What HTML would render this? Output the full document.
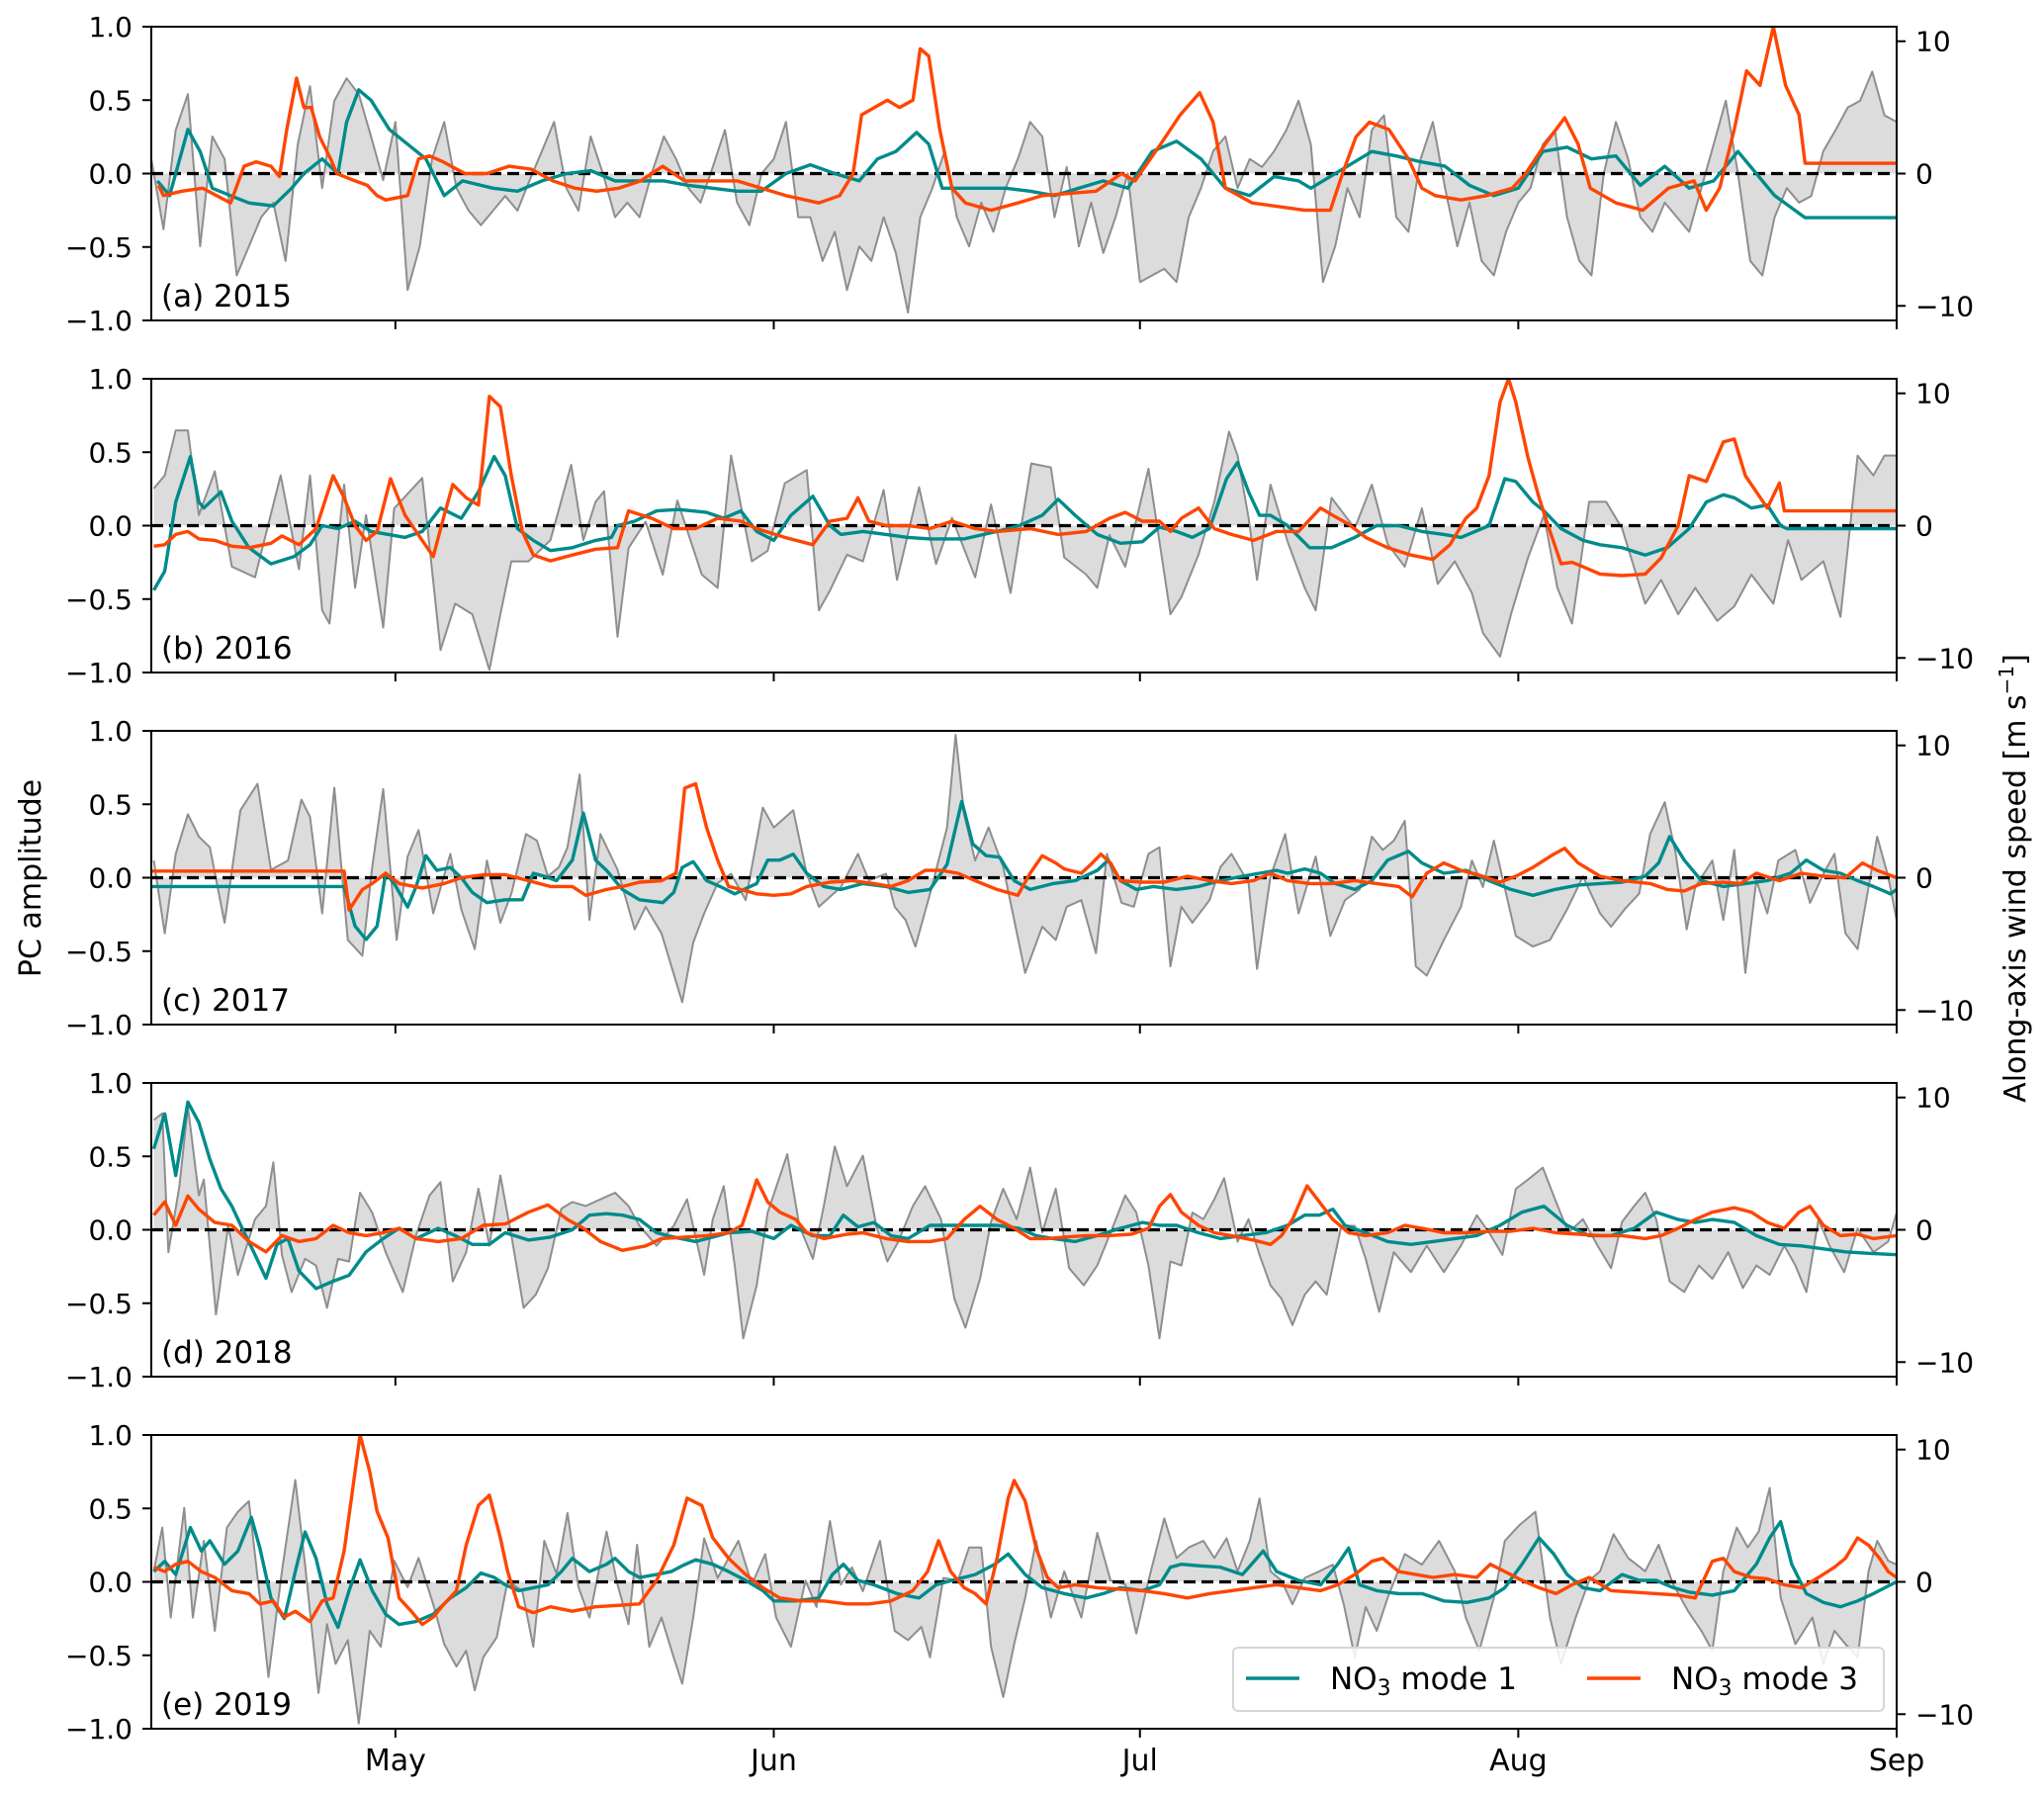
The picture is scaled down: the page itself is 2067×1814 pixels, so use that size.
<!DOCTYPE html>
<html><head><meta charset="utf-8"><title>PC amplitude and along-axis wind</title>
<style>
html,body{margin:0;padding:0;background:#fff;}
svg{display:block;font-family:"DejaVu Sans","Liberation Sans",sans-serif;}
</style></head>
<body>
<svg id="chart" width="2067" height="1814" viewBox="0 0 2067 1814" xmlns="http://www.w3.org/2000/svg"></svg>
<script>
// ---------------- DATA ----------------
const monthLabels = ["May","Jun","Jul","Aug","Sep"];
const monthDays = [20,51,81,112,143]; // days since Apr 11
const leftTicks = [-1.0,-0.5,0.0,0.5,1.0];
const rightTicks = [-10,0,10];
const panelLabels = ["(a) 2015","(b) 2016","(c) 2017","(d) 2018","(e) 2019"];

// wind (m/s), daily from Apr 11
const windA = [1.1,-4.2,3.3,6,-5.5,2.8,1.1,-7.7,-5.5,-3.3,-2.2,-6.6,2.2,6.6,-1.1,5.5,7.2,6,2.8,-0.5,3.9,-8.8,-5.5,1.1,3.9,-1.1,-2.8,-3.9,-2.8,-1.7,-2.8,-0.5,1.7,3.9,-1.1,-2.8,2.8,0,-3.3,-2.2,-3.3,0,2.8,1.1,-1.1,-2.2,0.5,3.3,-2.2,-3.9,0,1.1,3.9,-3.3,-3.3,-6.6,-4.4,-8.8,-5.5,-6.6,-3.3,-6,-10.5,-3.3,-1.1,1.7,-3.3,-5.5,-2.2,-4.4,-1.1,1.1,3.9,2.8,-3.3,0.5,-5.5,-2.2,-6,-3.3,0,-8.2,-7.7,-7.2,-8.2,-3.3,-1.1,1.7,2.8,-1.1,1.1,0.5,1.7,3.3,5.5,2.2,-8.2,-5.5,-1.1,-3.3,3.3,4.4,-3.3,-4.4,1.1,3.9,-1.1,-5.5,-2.2,-6.6,-7.7,-4.4,-2.2,-1.1,2.2,3.3,-3.3,-6.6,-7.7,0,3.9,1.1,-3.3,-4.4,-2.2,-3.3,-4.4,-1.1,2.2,5.5,0,-6.6,-7.7,-3.3,-1.1,-2.2,-1.7,1.7,3.3,5,5.5,7.7,4.4,3.9];
const windB = [[0.2,2.8],[1.1,3.8],[2,7.2],[3,7.2],[3.9,0.8],[5.2,4.1],[6.6,-3.1],[8.5,-3.9],[10.6,3.8],[12.1,-3.3],[13,3.8],[14,-6.4],[14.6,-7.4],[15.8,3.1],[16.7,-4.7],[17.6,0.8],[19,-7.7],[19.9,1.3],[22.2,3.6],[23.7,-9.4],[24.9,-5.9],[26.3,-6.7],[27.7,-10.9],[28.6,-6.7],[29.5,-2.7],[30.9,-2.7],[32.7,-1.1],[34.4,4.6],[35.4,-1.1],[36.4,1.8],[37.1,2.6],[38.2,-8.4],[39.1,-1.7],[40.5,0.3],[41.9,-3.7],[43.1,1.9],[45.1,-3.7],[46.4,-4.7],[47.5,5.3],[49.2,-2.7],[50.5,-1.9],[51.9,3.2],[53.7,4.2],[54.7,-6.4],[55.6,-4.9],[57,-2.2],[58.3,-2.7],[60,2.7],[61.1,-4.1],[62.9,2.9],[64.3,-2.9],[65.6,0.6],[67.5,-3.9],[68.8,1.6],[70.4,-5.1],[72.1,4.7],[73.7,4.4],[74.8,-2.4],[76.6,-3.7],[77.5,-4.7],[78.5,-0.7],[79.8,-3.1],[81.7,4.3],[83.5,-6.7],[84.4,-5.4],[85.8,-2.2],[87.1,1.8],[88.3,7.1],[89,5.3],[89.9,0.6],[90.6,-4.1],[91.7,3.1],[93.1,-1.2],[94.5,-4.7],[95.4,-6.4],[96.7,2.1],[98.6,-0.2],[100,3.1],[101.3,-1.4],[102.7,-3.1],[104.1,1.3],[105.4,-4.4],[106.8,-2.7],[108.2,-5.1],[109.1,-8.1],[110.5,-9.9],[111.4,-6.7],[112.8,-2.4],[114.1,0.8],[115.2,-4.7],[116.4,-7.4],[117.8,1.8],[119.2,1.8],[120.5,-0.2],[122.4,-5.9],[123.7,-4.1],[125.1,-6.7],[126.5,-4.7],[128.3,-7.2],[129.7,-6.1],[131.1,-3.7],[132.9,-5.9],[134.1,-1.1],[135.2,-4.1],[137,-2.7],[138.4,-6.9],[139.8,5.3],[141.1,3.8],[142,5.3],[143,5.3]];
const windC = [[0.2,1.3],[1.1,-4.2],[2,1.8],[3,4.8],[3.9,3.1],[4.8,2.3],[6,-3.4],[7.3,5.1],[8.7,7.1],[9.8,0.6],[11.2,1.3],[12.3,5.9],[13,4.6],[14,-2.7],[15,6.8],[16.1,-4.7],[17.3,-5.9],[18.1,0.8],[19,6.7],[20.1,-4.7],[21,1.6],[21.9,3.6],[23.1,-2.7],[24.5,1.8],[25.4,-2.4],[26.5,-5.4],[27.5,1.3],[28.6,-3.4],[29.5,-1.2],[30.7,3.3],[31.6,2.8],[32.5,0.1],[33.4,0.8],[34.1,2.3],[35.1,7.8],[35.9,-3.2],[36.8,3.3],[38.2,0.6],[39.6,-3.9],[40.5,-2.2],[41.8,-4.2],[43.5,-9.4],[44.4,-4.9],[45.3,-2.7],[46.4,-0.4],[47.5,0.3],[48.7,-1.7],[50.1,5.3],[51,3.8],[52.6,5.1],[53.7,0.3],[54.7,-2.2],[56.5,-0.7],[57.9,1.8],[58.8,-0.2],[60.2,0.3],[60.9,-2.2],[61.8,-3.2],[62.6,-5.2],[63.8,-1.2],[65.2,3.8],[65.9,10.8],[66.6,4.8],[67.5,1.3],[68.6,3.8],[69.8,0.8],[71.6,-7.2],[73,-3.7],[74.1,-4.7],[75,-2.2],[76.2,-1.7],[77.4,-5.7],[78.3,1.8],[79.5,-1.9],[80.5,-2.2],[81.7,1.8],[82.6,2.3],[83.5,-6.7],[84.4,-2.2],[85.3,-3.4],[86.7,-1.7],[87.6,0.8],[88.5,1.8],[89.9,-0.4],[90.6,-6.9],[91.7,0.1],[92.9,3.3],[94,-2.7],[95.4,1.6],[96.6,-4.4],[97.8,-1.7],[99,-0.9],[100,3.1],[100.9,2.1],[101.8,2.8],[102.7,4.3],[103.6,-6.7],[104.5,-7.4],[105.9,-4.7],[107.3,-2.2],[108.2,1.3],[109.1,-0.7],[110,2.8],[111.8,-4.4],[113.2,-5.2],[114.6,-4.7],[116,-2.4],[117.3,0.1],[118.7,-2.7],[119.6,-3.7],[120.7,-2.4],[121.9,-1.2],[122.8,3.3],[124,5.7],[124.9,1.8],[125.8,-3.9],[126.5,-0.7],[127.9,1.3],[128.8,-3.2],[129.7,2.1],[130.6,-7.2],[131.5,-0.2],[132.4,-2.7],[133.3,1.3],[134.7,2.1],[135.9,-1.9],[137,0.3],[137.9,1.8],[138.8,-4.2],[139.8,-5.4],[140.7,-0.7],[141.4,3.1],[142.3,0.1],[143,-3.2]];
const windD = [[0.2,8.3],[0.9,8.8],[1.4,-1.7],[2.3,3.3],[3,9.3],[3.9,2.6],[4.3,3.8],[5.3,-6.4],[6.3,0.3],[7.1,-3.4],[8.5,0.8],[9.4,1.8],[10,5.1],[10.7,-1.9],[11.5,-4.7],[12.6,-2.2],[13.5,-2.7],[14.4,-5.9],[15.3,-2.2],[16.2,-2.4],[17.1,2.8],[18.1,1.3],[19.2,-1.7],[20.6,-4.7],[21.7,-0.4],[22.8,2.6],[23.7,3.6],[24.7,-3.9],[25.8,-1.7],[26.8,3.1],[27.7,-1.2],[28.6,4.1],[29.5,-0.4],[30.5,-5.9],[31.5,-4.9],[32.5,-2.9],[33.6,1.6],[34.5,2.1],[35.6,1.8],[36.8,2.3],[38,2.8],[39.1,1.8],[40,0.3],[41.4,-1.2],[42.8,0.3],[43.9,2.3],[45.3,-3.4],[46,0.8],[46.9,3.3],[47.8,-2.7],[48.5,-8.2],[49.6,-4.2],[50.5,1.3],[52.1,5.7],[53.1,0.3],[54.2,-2.2],[55.1,1.8],[56,6.3],[57,3.3],[58.3,5.6],[59.4,0.3],[60.3,-2.4],[61.2,-0.9],[62.4,1.8],[63.4,3.3],[64.7,0.8],[65.8,-5.2],[66.7,-7.4],[67.9,-3.7],[68.8,0.6],[69.8,3.1],[70.9,0.8],[72,4.7],[73,-0.2],[74.1,3.1],[75.2,-2.9],[76.4,-4.2],[77.5,-2.7],[78.6,-0.2],[79.8,2.6],[80.7,1.3],[81.7,-2.7],[82.6,-8.2],[83.5,-2.4],[84.4,-2.7],[85.3,1.3],[86.2,0.8],[87.1,2.3],[87.9,3.9],[89,-0.9],[89.9,0.8],[90.8,-1.9],[91.7,-4.2],[92.6,-5.2],[93.5,-7.2],[94.5,-4.9],[95.4,-3.9],[96.3,-4.9],[97.5,0.3],[98.6,0.3],[99.5,-2.2],[100.6,-6.2],[101.8,-1.7],[103.2,-3.2],[104.5,-1.2],[105.9,-3.2],[107.3,-1.2],[108.6,1.1],[109.6,-0.2],[110.7,-1.9],[111.8,3.1],[112.8,3.8],[114,4.7],[115.1,2.1],[116.1,-0.2],[117.3,0.8],[118.5,-1.2],[119.6,-2.9],[120.5,0.6],[121.5,1.8],[122.4,2.8],[123.3,0.8],[124.4,-3.9],[125.6,-4.7],[126.8,-2.7],[127.9,-3.7],[129.2,-1.7],[130.4,-4.4],[131.5,-2.7],[132.6,-3.4],[133.8,-1.2],[134.7,-2.7],[135.6,-4.7],[136.6,0.8],[137.5,-1.2],[138.7,-3.2],[139.8,0.1],[141.1,-1.7],[142.3,-0.9],[143,1.3]];
const windE = [[0.2,0.8],[0.9,4.1],[1.6,-2.7],[2.7,5.6],[3.4,-2.7],[4.3,3.1],[5.2,-3.7],[6.2,4.1],[7.1,5.3],[8,6.1],[8.9,-1.2],[9.6,-7.2],[10.7,0.8],[11.8,7.7],[12.6,1.3],[13.7,-8.4],[14.4,-3.2],[15.1,-6.2],[16.1,-4.4],[17,-10.7],[17.9,-3.7],[18.8,-4.9],[19.9,1.6],[21,-0.4],[21.9,1.8],[23.1,-1.7],[24,-4.7],[25,-6.4],[25.8,-5.2],[26.5,-8.2],[27.2,-5.7],[28.3,-4.2],[29.2,0.1],[30.4,-0.7],[31.3,-4.9],[32.2,3.1],[33.2,0.6],[34.1,5.2],[35,-0.4],[35.9,-2.7],[37.3,3.8],[38.2,-0.2],[39.1,-3.2],[39.8,2.8],[40.8,-4.9],[41.8,-2.7],[42.8,-5.7],[43.5,-7.7],[44.4,-2.7],[45.3,3.3],[46.4,0.3],[48.1,3.1],[49.2,-0.2],[50.3,2.1],[51.2,-2.7],[52.4,-4.9],[53.6,0.1],[54.5,-1.9],[55.6,4.6],[56.5,-0.2],[57.4,1.1],[58.3,-0.7],[59.7,3.1],[60.9,-3.7],[62,-4.4],[63.1,-3.4],[63.8,-5.7],[64.9,0.3],[66.1,0.1],[67,2.6],[68,2.6],[68.8,-4.9],[69.8,-8.7],[70.7,-4.7],[71.6,-1.2],[72.5,3.1],[73.7,-2.7],[74.8,0.8],[76.2,-2.7],[77.5,3.7],[78.6,0.1],[79.8,-0.2],[80.7,-3.9],[81.7,0.1],[83,4.8],[84,1.8],[85,2.6],[86.2,3.1],[87.1,1.8],[88.1,3.3],[89,0.8],[90,3.1],[90.8,6.3],[91.7,0.8],[92.6,0.1],[93.5,-1.7],[94.5,0.3],[95.7,0.8],[96.8,1.3],[97.7,-1.7],[98.6,-5.7],[99.5,-1.9],[100.4,-3.7],[101.3,-1.2],[102.7,2.1],[104.1,1.3],[105.5,3.1],[106.8,0.8],[107.7,-2.7],[108.8,-5.2],[110,-1.2],[110.9,3.1],[112.1,4.3],[113.4,5.3],[114.6,-2.7],[115.5,-6.2],[116.7,-2.7],[117.8,0.1],[118.7,0.8],[119.8,3.6],[121,1.8],[122.4,0.8],[123.5,2.8],[124.7,-0.2],[125.9,-2.2],[127,-3.7],[127.9,-5.2],[128.8,0.8],[129.9,4.1],[130.8,2.6],[131.7,3.8],[132.6,7.1],[133.5,-1.2],[134.7,-4.7],[136.1,-2.7],[137,-6.2],[137.9,-3.7],[138.8,-4.7],[139.8,-5.7],[140.7,0.8],[141.4,3.1],[142.3,1.6],[143,1.3]];

// NO3 mode 1 PC amplitude
const mode1A = [[0.5,-0.05],[1.5,-0.15],[3,0.3],[4,0.15],[5,-0.1],[6.5,-0.15],[8,-0.2],[10,-0.22],[11.5,-0.1],[12.5,0],[14,0.1],[15.3,0],[16,0.35],[17,0.57],[18,0.5],[19.5,0.3],[21,0.2],[22.5,0.1],[24,-0.15],[25.5,-0.05],[28,-0.1],[30,-0.12],[32,-0.05],[34,0],[36,0.02],[38,-0.05],[40,-0.05],[42,-0.05],[44,-0.08],[46,-0.1],[48,-0.12],[50,-0.12],[52,0],[54,0.06],[56,0],[58,-0.05],[59.5,0.1],[61,0.15],[62.7,0.28],[63.7,0.2],[64.8,-0.1],[68,-0.1],[70,-0.1],[72,-0.12],[74,-0.15],[76,-0.1],[78,-0.05],[80,-0.1],[82,0.15],[84,0.22],[86,0.1],[88,-0.1],[90,-0.15],[92,-0.02],[94,-0.05],[95,-0.1],[98,0.05],[100,0.15],[102,0.12],[104,0.08],[106,0.05],[108,-0.08],[110,-0.15],[112,-0.1],[114,0.15],[116,0.18],[118,0.1],[120,0.12],[122,-0.08],[124,0.05],[126,-0.1],[128,-0.05],[130,0.15],[131.5,0],[133,-0.15],[135.5,-0.3],[143,-0.3]];
const mode1B = [[0.2,-0.44],[1.1,-0.31],[2,0.16],[3.2,0.47],[3.9,0.16],[4.3,0.12],[5.7,0.23],[6.6,0.03],[8,-0.15],[9.8,-0.26],[11.7,-0.21],[13,-0.13],[14,0],[15.3,-0.02],[16.7,0.03],[18,-0.04],[20.8,-0.08],[22.2,-0.04],[23.7,0.12],[25.4,0.05],[26.8,0.23],[28.1,0.47],[29,0.34],[30,-0.02],[31.3,-0.1],[32.7,-0.17],[34.5,-0.15],[36.4,-0.1],[37.7,-0.08],[38.2,0],[39.6,0.03],[41.4,0.1],[43.2,0.11],[45.5,0.09],[46.9,0.05],[48.3,0.1],[49.6,-0.04],[51,-0.1],[52.4,0.07],[54.2,0.2],[55.6,0],[56.5,-0.06],[58.3,-0.04],[60.2,-0.06],[62,-0.08],[63.8,-0.09],[66.6,-0.09],[69.3,-0.04],[71.1,0],[73,0.07],[74.3,0.18],[75.7,0.07],[77.5,-0.06],[79.4,-0.12],[81.2,-0.11],[82.6,-0.01],[84,-0.04],[85.3,-0.08],[86.7,-0.02],[88.1,0.32],[89,0.43],[89.9,0.23],[90.8,0.07],[91.7,0.07],[93.1,0],[94.9,-0.15],[96.7,-0.15],[98.6,-0.08],[100.4,0],[102.2,0],[104.1,-0.04],[105.9,-0.06],[107.3,-0.08],[109.6,0.0],[110.9,0.32],[111.8,0.3],[113.2,0.16],[114.1,0.1],[115.5,-0.02],[117.3,-0.1],[118.7,-0.13],[120.5,-0.15],[122.4,-0.2],[124.2,-0.15],[126,-0.02],[127.4,0.16],[128.8,0.21],[129.7,0.19],[131.1,0.12],[132.4,0.14],[133.5,0],[134,-0.02],[143,-0.02]];
const mode1C = [[0,-0.06],[15.8,-0.06],[16.7,-0.33],[17.6,-0.42],[18.5,-0.33],[19.2,0.03],[19.9,-0.04],[21,-0.2],[21.7,-0.06],[22.5,0.15],[23.4,0.05],[24.5,0.07],[25.4,0],[26.3,-0.1],[27.5,-0.17],[29,-0.15],[30.4,-0.15],[31.3,0.03],[32.2,0.01],[33.2,-0.02],[34.5,0.12],[35.4,0.44],[36.4,0.12],[37.3,0.05],[38.6,-0.08],[40,-0.15],[41.9,-0.17],[42.8,-0.1],[43.5,0.07],[44.4,0.11],[45.5,-0.02],[46.6,-0.06],[47.8,-0.11],[49.6,-0.04],[50.5,0.12],[51.5,0.12],[52.6,0.16],[53.7,0.03],[55.1,-0.06],[56.5,-0.08],[58.3,-0.04],[60.2,-0.06],[62,-0.1],[63.8,-0.08],[65.2,0.09],[66.4,0.52],[67.3,0.23],[68.4,0.15],[69.5,0.14],[70.7,-0.02],[72,-0.08],[73.9,-0.04],[75.7,-0.02],[77.5,0.05],[78.4,0.12],[79.4,-0.02],[80.7,-0.08],[82.1,-0.06],[84,-0.08],[85.8,-0.06],[87.6,-0.02],[89.4,0.01],[90.8,0.03],[92.2,0.05],[93.1,0.03],[94.5,0.06],[95.8,0.03],[97,-0.04],[98.6,-0.08],[100,-0.02],[101.3,0.12],[103,0.18],[104.1,0.1],[105.9,0.03],[107.7,0.05],[109.6,-0.02],[111.4,-0.08],[113.2,-0.12],[115,-0.08],[116.9,-0.05],[118.7,-0.04],[120.5,-0.03],[122.4,0.01],[123.5,0.1],[124.4,0.28],[125.6,0.12],[127,-0.02],[128.8,-0.06],[130.6,-0.04],[132.4,-0.02],[134.3,0.03],[135.6,0.12],[137,0.05],[138.4,0.03],[139.8,-0.02],[141.1,-0.06],[142.5,-0.11],[143,-0.08]];
const mode1D = [[0.2,0.55],[1.1,0.79],[2,0.37],[3,0.87],[3.9,0.73],[4.8,0.48],[5.7,0.28],[6.6,0.16],[7.5,0],[8.5,-0.17],[9.4,-0.33],[10.3,-0.1],[11.2,-0.06],[12.1,-0.28],[13.5,-0.4],[14.9,-0.35],[16.2,-0.31],[17.6,-0.15],[19,-0.06],[20.3,0.01],[21.7,-0.06],[23.5,0.01],[24.9,-0.04],[26.3,-0.1],[27.7,-0.1],[29,-0.02],[30.9,-0.07],[32.7,-0.05],[34.5,0],[35.9,0.1],[37.3,0.11],[38.6,0.1],[40,0.07],[41.4,-0.02],[42.8,-0.05],[44.6,-0.08],[46,-0.05],[47.3,-0.02],[49.2,-0.01],[51,-0.06],[52.4,0.03],[54.2,-0.04],[55.6,-0.04],[56.7,0.1],[57.9,0.02],[59.2,0.05],[60.6,-0.04],[62,-0.06],[63.8,0.03],[65.6,0.03],[67.5,0.03],[69.3,0.03],[71.1,0.01],[72.5,-0.04],[73.9,-0.06],[75.7,-0.08],[77.5,-0.04],[79.4,0.01],[81.2,0.05],[82.6,0.03],[84,0.03],[85.8,-0.02],[87.6,-0.06],[89.4,-0.04],[91.3,-0.02],[93.1,0.03],[94.5,0.1],[95.7,0.1],[96.8,0.14],[97.8,0.03],[99.5,-0.02],[101.3,-0.08],[103.2,-0.1],[105,-0.08],[106.8,-0.06],[108.6,-0.04],[110.5,0.03],[112.3,0.12],[114.1,0.16],[116,0.03],[117.8,-0.04],[119.6,-0.04],[121.5,0.01],[123.3,0.12],[125.1,0.07],[126.5,0.05],[127.9,0.07],[129.7,0.05],[131.5,-0.04],[133.4,-0.1],[135.2,-0.11],[137,-0.13],[138.8,-0.15],[140.7,-0.16],[143,-0.17]];
const mode1E = [[0.2,0.07],[1.1,0.14],[2,0.05],[3.2,0.37],[4.1,0.21],[4.8,0.28],[6,0.12],[7.1,0.21],[8.2,0.44],[8.9,0.23],[9.8,-0.11],[10.9,-0.25],[11.8,0.07],[12.6,0.34],[13.5,0.16],[14.4,-0.15],[15.3,-0.31],[16.2,-0.06],[17.1,0.15],[18.1,-0.06],[19.2,-0.22],[20.3,-0.29],[21.7,-0.27],[23.1,-0.22],[24.5,-0.11],[25.8,-0.04],[27,0.06],[28.1,0.03],[29,-0.02],[30.1,-0.06],[31.3,-0.04],[32.5,-0.02],[33.6,0.07],[34.5,0.16],[35.9,0.07],[37.3,0.12],[38,0.16],[39.1,0.07],[40,0.03],[41.4,0.05],[42.6,0.07],[43.5,0.11],[44.6,0.15],[46,0.12],[47.3,0.07],[48.7,0.01],[50.1,-0.06],[51,-0.13],[52.8,-0.13],[54.7,-0.11],[55.8,0.05],[56.7,0.12],[57.9,0.01],[59.2,-0.02],[61.1,-0.08],[62.9,-0.11],[64.3,-0.02],[65.6,0.01],[67.5,0.05],[69.1,0.12],[70.2,0.19],[71.6,0.05],[73,-0.04],[74.8,-0.08],[76.6,-0.11],[78,-0.08],[79.4,-0.04],[81.2,-0.06],[82.6,-0.02],[83.5,0.1],[84.4,0.12],[85.8,0.11],[87.6,0.1],[89.4,0.05],[91.1,0.21],[92.2,0.07],[94,0.01],[95.8,-0.02],[97.2,0.12],[98.1,0.23],[99,-0.02],[100.4,-0.06],[102.2,-0.08],[104.1,-0.08],[105.9,-0.13],[107.8,-0.14],[109.6,-0.11],[110.9,-0.04],[112.3,0.12],[113.7,0.3],[114.9,0.19],[116,0.05],[117.3,-0.04],[118.7,-0.06],[120.5,0.05],[121.9,0.01],[123.3,0.01],[124.7,-0.04],[126,-0.07],[127.9,-0.09],[129.7,-0.06],[131.5,0.12],[132.6,0.3],[133.5,0.41],[134.4,0.12],[135.6,-0.08],[137,-0.14],[138.4,-0.17],[139.8,-0.13],[141.1,-0.08],[142.5,-0.02],[143,0]];

// NO3 mode 3 PC amplitude
const mode3A = [[0.6,-0.08],[1,-0.15],[2.5,-0.12],[4.2,-0.1],[6.5,-0.2],[7.6,0.05],[8.6,0.08],[9.8,0.05],[10.5,-0.02],[11.1,0.3],[11.9,0.65],[12.5,0.45],[13.1,0.45],[13.8,0.25],[14.7,0.1],[15.2,0],[16.7,-0.05],[17.7,-0.08],[18.5,-0.15],[19.2,-0.18],[21,-0.15],[21.9,0.1],[22.8,0.12],[23.9,0.08],[25.7,0],[27.5,0],[29.3,0.05],[31.1,0.03],[32.9,-0.05],[34.7,-0.1],[36.5,-0.12],[38.3,-0.1],[40.1,-0.05],[41.9,0.05],[43.7,-0.05],[46,-0.05],[48,-0.05],[52,-0.15],[54.7,-0.2],[56.4,-0.15],[57.5,0],[58.2,0.4],[60.3,0.5],[61.3,0.45],[62.4,0.5],[63,0.85],[63.7,0.8],[64.6,0.3],[65.6,-0.1],[66.7,-0.2],[68.8,-0.25],[71,-0.2],[73,-0.15],[77.4,-0.12],[79.5,0],[80.6,-0.05],[82.7,0.2],[84.3,0.4],[85.9,0.55],[87,0.35],[88,-0.1],[90.2,-0.2],[94.5,-0.25],[96.6,-0.25],[97.6,0],[98.7,0.25],[99.8,0.35],[101.4,0.3],[103,0.1],[104.1,-0.1],[105.2,-0.15],[107.3,-0.18],[109.4,-0.15],[111.5,-0.1],[112.6,0],[114.2,0.2],[115.8,0.38],[116.9,0.2],[117.9,-0.1],[120,-0.2],[122.2,-0.25],[124.3,-0.1],[126.4,-0.05],[127.4,-0.25],[128.5,-0.1],[129.7,0.3],[130.7,0.7],[131.8,0.6],[132.9,1.0],[133.9,0.6],[135,0.4],[135.5,0.07],[143,0.07]];
const mode3B = [[0.2,-0.14],[1.1,-0.13],[2,-0.06],[3,-0.04],[3.9,-0.09],[5.2,-0.1],[6.6,-0.14],[8,-0.15],[9.8,-0.12],[10.7,-0.07],[12.1,-0.13],[13.5,-0.02],[14.9,0.34],[15.8,0.19],[16.7,0],[17.6,-0.1],[18.5,-0.04],[19.6,0.32],[20.8,0.07],[22.2,-0.1],[23.1,-0.21],[24,0.07],[24.7,0.28],[25.8,0.19],[26.8,0.14],[27.7,0.88],[28.6,0.81],[29.5,0.34],[30.4,-0.04],[31.3,-0.2],[32.7,-0.24],[34.5,-0.2],[36.4,-0.16],[38.2,-0.15],[39.1,0.1],[41,0.05],[42.8,-0.02],[44.6,-0.02],[46.4,0.05],[48.3,0.03],[49.6,-0.02],[51.9,-0.08],[54.2,-0.13],[55.6,0.03],[57,0.05],[57.9,0.19],[58.8,0.03],[60.2,0],[62,0],[63.8,-0.02],[65.6,0.03],[67.5,-0.02],[69.3,-0.04],[72,-0.02],[74.3,-0.06],[76.6,-0.04],[78.5,0.05],[79.8,0.09],[81.2,0.03],[82.6,0.03],[83.5,-0.04],[84.4,0.05],[85.8,0.12],[87.1,-0.02],[88.5,-0.06],[90.3,-0.1],[92.2,-0.04],[94,-0.04],[95.8,0.12],[96.8,0.07],[98.1,0.01],[99.5,-0.08],[101.3,-0.15],[103.2,-0.2],[105,-0.23],[106.4,-0.13],[107.7,0.05],[108.6,0.12],[109.6,0.34],[110.5,0.84],[111.2,1.0],[111.8,0.84],[112.8,0.46],[113.7,0.19],[114.6,-0.04],[115.5,-0.26],[116.4,-0.25],[117.3,-0.28],[118.7,-0.33],[120.5,-0.34],[122.4,-0.33],[123.7,-0.22],[125.1,0],[126,0.34],[127.4,0.3],[128.8,0.57],[129.7,0.59],[130.6,0.34],[131.5,0.23],[132.4,0.12],[133.4,0.29],[133.8,0.1],[143,0.1]];
const mode3C = [[0,0.045],[15.8,0.045],[16.2,-0.22],[17.3,-0.08],[18.1,-0.04],[19.2,0.03],[20.3,-0.04],[22.2,-0.07],[24,-0.04],[25.4,0],[27.2,0.02],[29,0.02],[30.9,-0.02],[32.7,-0.06],[34.5,-0.06],[35.6,-0.12],[37.3,-0.08],[38.6,-0.06],[40,-0.03],[41.8,-0.02],[43,0.03],[43.7,0.61],[44.6,0.64],[45.5,0.34],[46.4,0.12],[47.3,-0.06],[48.3,-0.08],[49.6,-0.11],[51,-0.12],[52.4,-0.11],[53.7,-0.06],[55.6,-0.03],[57.4,-0.02],[59.2,-0.04],[60.6,-0.06],[62,-0.02],[63.4,0.05],[64.7,0.05],[66.1,0.03],[67.5,-0.02],[69.3,-0.08],[71,-0.12],[72,0.03],[73,0.15],[74.1,0.1],[74.8,0.06],[76.2,0.03],[77.1,0.1],[77.8,0.16],[78.6,0.1],[79.4,-0.02],[81.2,-0.03],[83,-0.03],[84.9,0.01],[86.7,-0.02],[88.5,-0.04],[90.3,-0.02],[91.7,0.03],[93.1,-0.02],[94.9,-0.04],[96.7,-0.04],[98.6,-0.02],[100.4,-0.04],[102.2,-0.06],[103.3,-0.13],[104.5,0.03],[105.9,0.1],[107.3,0.05],[108.7,0.02],[110.5,-0.03],[111.8,0.01],[113.2,0.07],[114.9,0.16],[115.8,0.2],[116.9,0.1],[118.7,0.01],[120.5,-0.02],[122.8,-0.04],[124.2,-0.08],[125.6,-0.09],[127,-0.04],[128.8,-0.03],[130.2,-0.04],[131.5,0.03],[133.4,-0.02],[135.2,0.03],[137,0.01],[138.8,0],[140.2,0.1],[141.4,0.05],[143,0]];
const mode3D = [[0.2,0.1],[1.1,0.19],[2,0.03],[3,0.23],[3.9,0.14],[5.2,0.05],[6.6,0.03],[8,-0.08],[9.4,-0.15],[10.7,-0.04],[12.1,-0.08],[13.5,-0.06],[14.9,0.03],[16.2,-0.02],[17.6,-0.04],[19,-0.02],[20.3,0.01],[21.7,-0.06],[23.5,-0.08],[25.4,-0.06],[27.2,0.03],[29,0.04],[30.9,0.12],[32.5,0.17],[34.1,0.07],[35.4,0.01],[36.8,-0.08],[38.6,-0.14],[40.5,-0.11],[41.8,-0.06],[43.7,-0.05],[45.5,-0.04],[47.3,-0.02],[48.4,0.03],[49.2,0.23],[49.6,0.34],[50.5,0.19],[51.5,0.12],[52.8,0.07],[53.7,-0.02],[55.1,-0.06],[57,-0.03],[58.3,-0.02],[60.2,-0.06],[62,-0.08],[63.8,-0.08],[65.2,-0.06],[66.6,0.07],[67.9,0.16],[69.3,0.07],[70.7,0.01],[72,-0.06],[73.4,-0.06],[74.8,-0.05],[76.6,-0.04],[78.4,-0.04],[80.3,-0.03],[81.7,0.01],[82.6,0.16],[83.5,0.24],[84.4,0.12],[85.8,0.03],[87.1,-0.02],[88.5,-0.04],[90.3,-0.07],[91.7,-0.1],[92.6,-0.04],[93.5,0.07],[94.7,0.3],[95.7,0.19],[96.8,0.07],[98.1,-0.02],[99.5,-0.04],[101.3,-0.02],[102.7,0.03],[104.1,0.01],[105.9,-0.02],[107.8,-0.02],[109.6,-0.01],[111.4,-0.01],[113.2,0.01],[115.1,-0.02],[117,-0.03],[118.7,-0.04],[120.5,-0.04],[122.4,-0.06],[123.7,-0.04],[125.1,0.01],[126.5,0.07],[127.9,0.12],[129.7,0.15],[131.1,0.12],[132.4,0.05],[133.8,0.01],[135,0.12],[135.9,0.16],[137,0.03],[138.4,-0.04],[139.8,-0.03],[141.1,-0.06],[143,-0.04]];
const mode3E = [[0.2,0.1],[1.1,0.07],[2,0.12],[3,0.14],[4.1,0.07],[5.2,0.03],[6.6,-0.06],[8,-0.08],[8.9,-0.15],[10,-0.13],[10.9,-0.24],[11.8,-0.2],[13,-0.27],[14,-0.13],[14.9,-0.11],[15.8,0.21],[16.4,0.57],[17.1,1.0],[17.9,0.75],[18.5,0.48],[19.4,0.3],[20.3,-0.11],[21.3,-0.2],[22.2,-0.29],[23.1,-0.24],[24,-0.15],[25,-0.06],[25.8,0.25],[26.8,0.52],[27.7,0.59],[28.6,0.3],[29.2,0.07],[30.1,-0.17],[31.3,-0.21],[32.7,-0.17],[34.5,-0.2],[36.4,-0.17],[38.2,-0.16],[40,-0.15],[41.4,0.01],[42.8,0.25],[43.9,0.57],[45.1,0.52],[46,0.3],[47.3,0.16],[48.7,0.05],[50.1,-0.04],[51.5,-0.11],[53.3,-0.13],[55.1,-0.13],[57,-0.15],[58.8,-0.15],[60.6,-0.13],[62.4,-0.06],[63.6,0.07],[64.5,0.28],[65.5,0.07],[66.6,-0.04],[67.5,-0.08],[68.4,-0.15],[69.3,0.16],[70.2,0.57],[70.7,0.69],[71.6,0.55],[72.5,0.23],[73.4,0.03],[74.3,-0.04],[75.7,-0.02],[77.5,-0.04],[79.4,-0.05],[81.2,-0.06],[83,-0.08],[84.9,-0.11],[86.7,-0.08],[88.5,-0.06],[90.3,-0.04],[92.2,-0.02],[94,-0.04],[95.8,-0.06],[97.2,-0.02],[98.6,0.05],[100,0.14],[100.9,0.16],[102.2,0.07],[103.6,0.05],[105,0.03],[106.8,0.05],[108.6,0.03],[109.7,0.12],[110.9,0.07],[112.3,0.01],[113.7,-0.04],[115.1,-0.08],[116.4,-0.02],[117.8,0.03],[119.6,-0.06],[121.5,-0.07],[123.3,-0.08],[125.1,-0.09],[126.5,-0.11],[127.9,0.14],[128.8,0.16],[129.7,0.07],[131.1,0.03],[132.4,0.02],[133.8,-0.02],[135.2,-0.04],[136.6,0.03],[137.9,0.1],[138.8,0.16],[139.8,0.3],[140.7,0.25],[141.6,0.16],[142.3,0.07],[143,0.03]];

// ---------------- DRAWING ----------------
const svg = document.getElementById('chart');
const NS = 'http://www.w3.org/2000/svg';
const X0 = 153, X1 = 1918, DAYS = 143;
const PTOP = 27, PH = 297, PGAP = 356;
const WMAX = 11.1;
const FS = 28, FL = 31, FT = 30;
const xDay = d => X0 + (X1 - X0) * d / DAYS;

function mk(tag, attrs, parent) {
  const el = document.createElementNS(NS, tag);
  for (const k in attrs) el.setAttribute(k, attrs[k]);
  (parent || svg).appendChild(el);
  return el;
}
function toPairs(arr) { return arr.map((v, i) => Array.isArray(v) ? v : [i, v]); }

const panels = [
  {wind: windA, m1: mode1A, m3: mode3A},
  {wind: windB, m1: mode1B, m3: mode3B},
  {wind: windC, m1: mode1C, m3: mode3C},
  {wind: windD, m1: mode1D, m3: mode3D},
  {wind: windE, m1: mode1E, m3: mode3E}
];

panels.forEach((p, i) => {
  const top = PTOP + i * PGAP, bot = top + PH, mid = top + PH / 2;
  const yPC = v => mid - v * PH / 2;
  const yW = w => mid - (w / WMAX) * PH / 2;
  const g = mk('g', {});
  
  
  const clipId = 'clip' + i;
  const cp = mk('clipPath', {id: clipId}, g);
  mk('rect', {x: X0, y: top, width: X1 - X0, height: PH}, cp);
  const plot = mk('g', {'clip-path': 'url(#' + clipId + ')'}, g);

  const wp = toPairs(p.wind);
  const pts = wp.map(q => xDay(q[0]).toFixed(1) + ',' + yW(q[1]).toFixed(1));
  const fillD = 'M' + xDay(wp[0][0]).toFixed(1) + ',' + mid + ' L' + pts.join(' L') + ' L' + xDay(wp[wp.length - 1][0]).toFixed(1) + ',' + mid + ' Z';
  const wf = mk('path', {d: fillD, fill: '#dcdcdc', stroke: 'none'}, plot);
  
  
  const wl = mk('polyline', {points: pts.join(' '), fill: 'none', stroke: '#8e8e8e', 'stroke-width': 2, 'stroke-linejoin': 'round'}, plot);
  
  

  const zl = mk('line', {x1: X0, x2: X1, y1: mid, y2: mid, stroke: '#000', 'stroke-width': 3.2, 'stroke-dasharray': '12,6'}, plot);
  
  

  const m1 = mk('polyline', {points: toPairs(p.m1).map(q => xDay(q[0]).toFixed(1) + ',' + yPC(q[1]).toFixed(1)).join(' '), fill: 'none', stroke: '#008b8b', 'stroke-width': 3.4, 'stroke-linejoin': 'round'}, plot);
  
  
  const m3 = mk('polyline', {points: toPairs(p.m3).map(q => xDay(q[0]).toFixed(1) + ',' + yPC(q[1]).toFixed(1)).join(' '), fill: 'none', stroke: '#ff4500', 'stroke-width': 3.4, 'stroke-linejoin': 'round'}, plot);
  
  

  const fr = mk('rect', {x: X0, y: top, width: X1 - X0, height: PH, fill: 'none', stroke: '#000', 'stroke-width': 2}, g);
  
  

  leftTicks.forEach(t => {
    const y = yPC(t);
    mk('line', {x1: X0 - 9, x2: X0, y1: y, y2: y, stroke: '#000', 'stroke-width': 2}, g);
    const tx = mk('text', {x: X0 - 19, y: y + 10, 'text-anchor': 'end', 'font-size': FS, fill: '#000'}, g);
    tx.textContent = (t < 0 ? '\u2212' : '') + Math.abs(t).toFixed(1);
    
    
  });
  rightTicks.forEach(t => {
    const y = yW(t);
    mk('line', {x1: X1, x2: X1 + 9, y1: y, y2: y, stroke: '#000', 'stroke-width': 2}, g);
    const tx = mk('text', {x: X1 + 19, y: y + 10, 'text-anchor': 'start', 'font-size': FS, fill: '#000'}, g);
    tx.textContent = (t < 0 ? '\u2212' : '') + Math.abs(t);
    
    
  });
  monthDays.forEach((d, k) => {
    const x = xDay(d);
    mk('line', {x1: x, x2: x, y1: bot, y2: bot + 9, stroke: '#000', 'stroke-width': 2}, g);
    if (i === panels.length - 1) {
      const tx = mk('text', {x: x, y: bot + 42, 'text-anchor': 'middle', 'font-size': FT, fill: '#000'}, g);
      tx.textContent = monthLabels[k];
      
      
    }
  });
  const pl = mk('text', {x: X0 + 10, y: bot - 14, 'font-size': FL, fill: '#000'}, g);
  pl.textContent = panelLabels[i];
  
  
});

const ylab = mk('text', {x: 0, y: 0, 'font-size': FT, 'text-anchor': 'middle', transform: 'translate(41,888) rotate(-90)'});
ylab.textContent = 'PC amplitude';


const rlab = mk('text', {x: 0, y: 0, 'font-size': FT, 'text-anchor': 'middle', transform: 'translate(2048,888) rotate(-90)'});
rlab.innerHTML = 'Along-axis wind speed [m s<tspan font-size="20" dy="-12">\u22121</tspan><tspan dy="12">]</tspan>';



const lg = mk('g', {});


mk('rect', {x: 1247, y: 1666, width: 658, height: 64, rx: 5, fill: '#fff', 'fill-opacity': 0.85, stroke: '#d6d6d6', 'stroke-width': 2}, lg);
const le1 = mk('g', {}, lg);


mk('line', {x1: 1260, x2: 1314, y1: 1697, y2: 1697, stroke: '#008b8b', 'stroke-width': 3.4}, le1);
const t1 = mk('text', {x: 1345, y: 1708, 'font-size': FL}, le1);
t1.innerHTML = 'NO<tspan font-size="22" dy="6">3</tspan><tspan dy="-6"> mode 1</tspan>';
const le3 = mk('g', {}, lg);


mk('line', {x1: 1605, x2: 1659, y1: 1697, y2: 1697, stroke: '#ff4500', 'stroke-width': 3.4}, le3);
const t3 = mk('text', {x: 1690, y: 1708, 'font-size': FL}, le3);
t3.innerHTML = 'NO<tspan font-size="22" dy="6">3</tspan><tspan dy="-6"> mode 3</tspan>';
</script>
</body></html>
